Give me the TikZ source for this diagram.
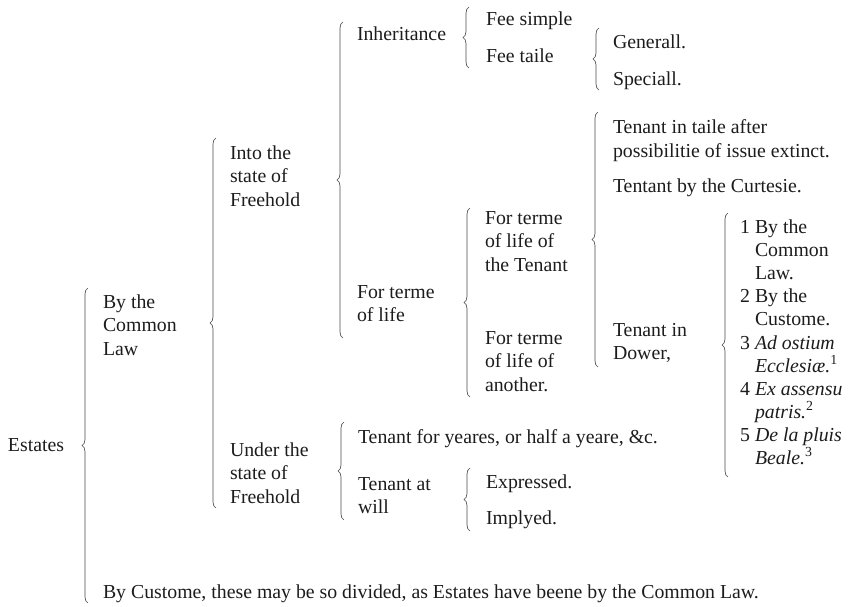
\documentclass[tikz,border=0pt]{standalone}
\usepackage{fontspec}
\setmainfont{Liberation Serif}
\usetikzlibrary{decorations.pathreplacing}
\definecolor{ink}{RGB}{28,28,28}
\tikzset{
  t/.style={anchor=base west, inner sep=0pt, outer sep=0pt,
            font=\fontsize{19.8}{23.5}\selectfont, text=ink},
  brc/.style={draw=ink!80, line width=0.65pt, decorate,
              decoration={brace, amplitude=6pt}},
}
\begin{document}
\begin{tikzpicture}[x=1pt, y=-1pt]
\useasboundingbox (0,0) rectangle (848,607);

% ---------- braces (endpoints) ----------
\coordinate (B0t) at (88,288);  \coordinate (B0b) at (88,603);
\coordinate (B1t) at (216,138); \coordinate (B1b) at (216,508);
\coordinate (B2t) at (343,22);  \coordinate (B2b) at (343,338);
\coordinate (B3t) at (469,7);   \coordinate (B3b) at (469,68);
\coordinate (B4t) at (599,28);  \coordinate (B4b) at (599,90);
\coordinate (B5t) at (470,208); \coordinate (B5b) at (470,397);
\coordinate (B6t) at (598,112); \coordinate (B6b) at (598,367);
\coordinate (B7t) at (728,213); \coordinate (B7b) at (728,477);
\coordinate (B8t) at (344,422); \coordinate (B8b) at (344,520);
\coordinate (B9t) at (470,468); \coordinate (B9b) at (470,531);

\foreach \b in {B0,B1,B2,B3,B4,B5,B6,B7,B8,B9}
  \draw[brc] (\b b) -- (\b t);

% ---------- level 0 ----------
\node[t] (est) at (8,451) {Estates};

% ---------- level 1 ----------
\node[t] (bcl1) at (103,308)   {By the};
\node[t] (bcl2) at (103,331.5) {Common};
\node[t] (bcl3) at (103,355)   {Law};
\node[t] (cust) at (103,598) {By Custome, these may be so divided, as Estates have beene by the Common Law.};

% ---------- level 2 ----------
\node[t] (into1) at (230,159)   {Into the};
\node[t] (into2) at (230,182.5) {state of};
\node[t] (into3) at (230,206)   {Freehold};
\node[t] (und1) at (230,456)   {Under the};
\node[t] (und2) at (230,479.5) {state of};
\node[t] (und3) at (230,503)   {Freehold};

% ---------- level 3 ----------
\node[t] (inh) at (357,41) {Inheritance};
\node[t] (ftl1) at (357,298)   {For terme};
\node[t] (ftl2) at (357,321.5) {of life};
\node[t] (tfy) at (358,443) {Tenant for yeares, or half a yeare, \&c.};
\node[t] (taw1) at (358,490)   {Tenant at};
\node[t] (taw2) at (358,513.5) {will};

% ---------- level 4 ----------
\node[t] (fs) at (486,26) {Fee simple};
\node[t] (ft) at (486,63) {Fee taile};
\node[t] (ftt1) at (485,224)   {For terme};
\node[t] (ftt2) at (485,247.5) {of life of};
\node[t] (ftt3) at (485,271)   {the Tenant};
\node[t] (fta1) at (485,344)   {For terme};
\node[t] (fta2) at (485,367.5) {of life of};
\node[t] (fta3) at (485,391)   {another.};
\node[t] (expr) at (486,488) {Expressed.};
\node[t] (impl) at (486,524) {Implyed.};

% ---------- level 5 ----------
\node[t] (gen) at (613,49) {Generall.};
\node[t] (spe) at (613,86) {Speciall.};
\node[t] (tta1) at (613,134)   {Tenant in taile after};
\node[t] (tta2) at (613,157.5) {possibilitie of issue extinct.};
\node[t] (tcu)  at (613,192)   {Tentant by the Curtesie.};
\node[t] (tid1) at (613,336) {Tenant in};
\node[t] (tid2) at (613,359) {Dower,};

% ---------- level 6 (Dower) ----------
\node[t] (n1) at (740,233) {1};
\node[t] (d1a) at (755,233) {By the};
\node[t] (d1b) at (755,256) {Common};
\node[t] (d1c) at (755,279) {Law.};
\node[t] (n2) at (740,302) {2};
\node[t] (d2a) at (755,302) {By the};
\node[t] (d2b) at (755,325) {Custome.};
\node[t] (n3) at (740,349) {3};
\node[t] (d3a) at (755,349) {\itshape Ad ostium};
\node[t] (d3b) at (755,372) {\itshape Ecclesiæ.\textsuperscript{\upshape 1}};
\node[t] (n4) at (740,395) {4};
\node[t] (d4a) at (755,395) {\itshape Ex assensu};
\node[t] (d4b) at (755,418) {\itshape patris.\textsuperscript{\upshape 2}};
\node[t] (n5) at (740,441) {5};
\node[t] (d5a) at (755,441) {\itshape De la pluis};
\node[t] (d5b) at (755,464) {\itshape Beale.\textsuperscript{\upshape 3}};
\end{tikzpicture}
\end{document}
